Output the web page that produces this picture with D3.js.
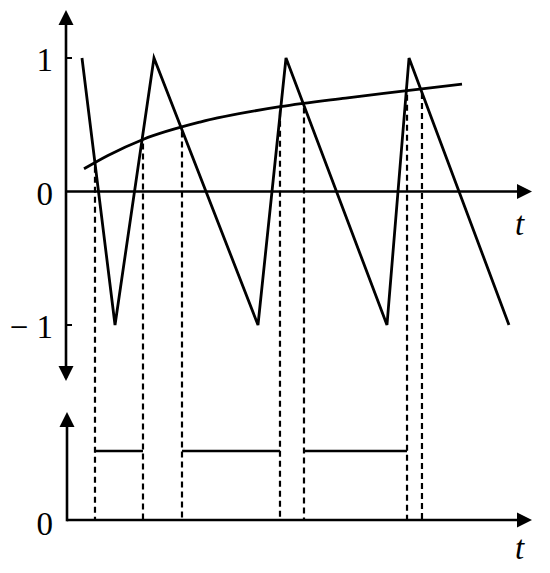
<!DOCTYPE html>
<html>
<head>
<meta charset="utf-8">
<script src="https://cdn.jsdelivr.net/npm/d3@7"></script>
<style>
  html, body { margin: 0; padding: 0; background: #fff; }
  svg { display: block; }
  text { font-family: "Liberation Serif", "DejaVu Serif", serif; fill: #000; }
</style>
</head>
<body>
<svg id="chart" width="550" height="573"></svg>
<script>
// ---- data ----
// sawtooth carrier vertices (time, value)
const sawT = [0.343, 1.052, 1.888, 4.120, 4.721, 6.888, 7.361, 9.506];
const sawV = [1, -1, 1, -1, 1, -1, 1, -1];
// slowly rising reference curve (time, value)
const refT = [0.386, 0.9, 1.652, 2.876, 4.592, 6.0, 7.318, 8.498];
const refV = [0.17, 0.27, 0.39, 0.52, 0.635, 0.70, 0.755, 0.805];
// crossing times (dashed guides)
const crossT = [0.622, 1.652, 2.489, 4.592, 5.107, 7.318, 7.639];
// output pulses (start, end), level 1
const pulseStart = [0.622, 2.489, 5.107];
const pulseEnd = [1.652, 4.592, 7.318];
const pulseLevel = 1;
// tick labels
const topTicks = [1, 0, -1];
const topTickLabels = ["1", "0", "\u2212 1"];
const bottomTickLabels = ["0"];
const axisLabel = "t";

// ---- scales ----
const svg = d3.select("#chart");
const x = d3.scaleLinear().domain([0, 10]).range([66, 532]);
const yTop = d3.scaleLinear().domain([-1, 1]).range([325, 58]);
const yBot = d3.scaleLinear().domain([0, 1]).range([520, 451]);

const ink = "#000";

function arrow(g, tipX, tipY, dir) {
  const L = 15, W = 7.5;
  let pts;
  if (dir === "up") pts = [[tipX, tipY], [tipX - W, tipY + L], [tipX + W, tipY + L]];
  if (dir === "down") pts = [[tipX, tipY], [tipX - W, tipY - L], [tipX + W, tipY - L]];
  if (dir === "right") pts = [[tipX, tipY], [tipX - L, tipY - W], [tipX - L, tipY + W]];
  g.append("polygon").attr("points", pts.map(p => p.join(",")).join(" ")).attr("fill", ink);
}

// ---- top panel axes ----
const gTop = svg.append("g");
const x0 = x(0);
gTop.append("line").attr("x1", x0).attr("x2", x0).attr("y1", 378).attr("y2", 20)
  .attr("stroke", ink).attr("stroke-width", 2.6);
arrow(gTop, x0, 10, "up");
arrow(gTop, x0, 381, "down");
gTop.append("line").attr("x1", x0).attr("x2", 520).attr("y1", yTop(0)).attr("y2", yTop(0))
  .attr("stroke", ink).attr("stroke-width", 2.6);
arrow(gTop, 532, yTop(0), "right");
// ticks at 1 and -1
gTop.selectAll("line.tick").data([1, -1]).join("line").attr("class", "tick")
  .attr("x1", x0).attr("x2", x0 + 6).attr("y1", d => yTop(d)).attr("y2", d => yTop(d))
  .attr("stroke", ink).attr("stroke-width", 2);
gTop.selectAll("text.tl").data(topTicks).join("text").attr("class", "tl")
  .attr("x", 53).attr("y", d => yTop(d) + 13)
  .attr("text-anchor", "end").attr("font-size", 33)
  .text((d, i) => topTickLabels[i]);
gTop.append("text").attr("x", 515).attr("y", 235).attr("font-size", 33)
  .attr("font-style", "italic").text(axisLabel);

// ---- reference curve generator ----
const refData = refT.map((t, i) => [t, refV[i]]);
const refLine = d3.line().x(d => x(d[0])).y(d => yTop(d[1])).curve(d3.curveMonotoneX);

// value of the reference curve at time t (linear between read points)
const refInterp = t => {
  for (let i = 0; i < refT.length - 1; i++) {
    if (t >= refT[i] && t <= refT[i + 1]) {
      const f = (t - refT[i]) / (refT[i + 1] - refT[i]);
      return refV[i] + f * (refV[i + 1] - refV[i]);
    }
  }
  return refV[refV.length - 1];
};

// ---- dashed guides ----
svg.append("g").selectAll("line").data(crossT).join("line")
  .attr("x1", d => x(d)).attr("x2", d => x(d))
  .attr("y1", d => yTop(refInterp(d)) + 4).attr("y2", yBot(0))
  .attr("stroke", ink).attr("stroke-width", 2.2).attr("stroke-dasharray", "6,4");

// ---- sawtooth ----
const sawData = sawT.map((t, i) => [t, sawV[i]]);
svg.append("path").datum(sawData)
  .attr("d", d3.line().x(d => x(d[0])).y(d => yTop(d[1])))
  .attr("fill", "none").attr("stroke", ink).attr("stroke-width", 2.8)
  .attr("stroke-linejoin", "miter");

// ---- reference curve ----
svg.append("path").datum(refData)
  .attr("d", refLine)
  .attr("fill", "none").attr("stroke", ink).attr("stroke-width", 2.8);

// ---- bottom panel ----
const gBot = svg.append("g");
const xb = 67;
gBot.append("line").attr("x1", xb).attr("x2", xb).attr("y1", yBot(0) + 1.3).attr("y2", 424)
  .attr("stroke", ink).attr("stroke-width", 2.6);
arrow(gBot, xb, 412, "up");
gBot.append("line").attr("x1", xb).attr("x2", 520).attr("y1", yBot(0)).attr("y2", yBot(0))
  .attr("stroke", ink).attr("stroke-width", 2.6);
arrow(gBot, 532, yBot(0), "right");
gBot.append("text").attr("x", 53).attr("y", yBot(0) + 15).attr("text-anchor", "end")
  .attr("font-size", 33).text(bottomTickLabels[0]);
gBot.append("text").attr("x", 515).attr("y", 559).attr("font-size", 33)
  .attr("font-style", "italic").text(axisLabel);

gBot.selectAll("line.pulse").data(pulseStart).join("line").attr("class", "pulse")
  .attr("x1", d => x(d)).attr("x2", (d, i) => x(pulseEnd[i]))
  .attr("y1", yBot(pulseLevel)).attr("y2", yBot(pulseLevel))
  .attr("stroke", ink).attr("stroke-width", 2.6);
</script>
</body>
</html>
